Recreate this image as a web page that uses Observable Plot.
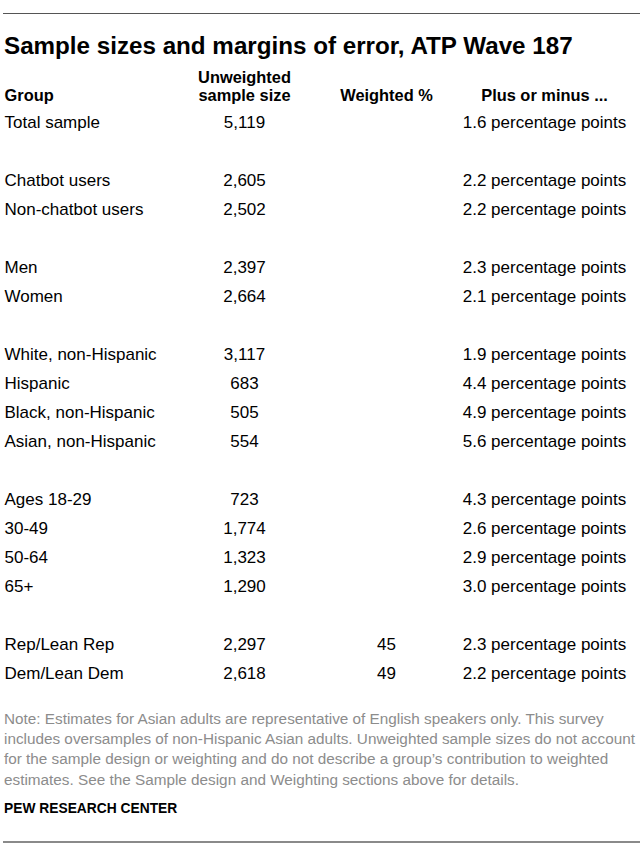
<!DOCTYPE html>
<html>
<head>
<meta charset="utf-8">
<script src="https://cdn.jsdelivr.net/npm/d3@7"></script>
<script src="https://cdn.jsdelivr.net/npm/@observablehq/plot@0.6"></script>
<style>
  body { margin: 0; background: #fff; }
  #wrap { position: relative; width: 640px; height: 856px; font-family: "Liberation Sans", Arial, sans-serif; }
  .rule { position: absolute; left: 3px; right: 0; height: 0; }
  #top-rule { top: 13px; border-top: 1.5px solid #555; }
  #bottom-rule { top: 841px; border-top: 2px solid #8a8a8a; }
  #title { position: absolute; left: 4px; top: 34px; font-size: 24.2px; line-height: 24px; font-weight: bold; color: #000; white-space: nowrap; }
  #chart { position: absolute; left: 0; top: 62px; }
  #note { position: absolute; left: 4px; top: 708.5px; width: 636px; font-size: 15.3px; line-height: 20.4px; color: #8c8c8c; }
  #source { position: absolute; left: 4px; top: 802px; font-size: 13.8px; line-height: 14px; font-weight: bold; color: #000; }
</style>
</head>
<body>
<div id="wrap">
  <div class="rule" id="top-rule"></div>
  <div id="title"></div>
  <div id="chart"></div>
  <div id="note"></div>
  <div id="source"></div>
  <div class="rule" id="bottom-rule"></div>
</div>
<script>
// ---- Data ----
const title = "Sample sizes and margins of error, ATP Wave 187";
const groups = [
  "Total sample",
  "Chatbot users", "Non-chatbot users",
  "Men", "Women",
  "White, non-Hispanic", "Hispanic", "Black, non-Hispanic", "Asian, non-Hispanic",
  "Ages 18-29", "30-49", "50-64", "65+",
  "Rep/Lean Rep", "Dem/Lean Dem"
];
const sections = [0, 1, 1, 2, 2, 3, 3, 3, 3, 4, 4, 4, 4, 5, 5];
const unweightedN = [5119, 2605, 2502, 2397, 2664, 3117, 683, 505, 554, 723, 1774, 1323, 1290, 2297, 2618];
const weightedPct = [null, null, null, null, null, null, null, null, null, null, null, null, null, 45, 49];
const marginOfError = [1.6, 2.2, 2.2, 2.3, 2.1, 1.9, 4.4, 4.9, 5.6, 4.3, 2.6, 2.9, 3.0, 2.3, 2.2];
const headers = ["Group", "Unweighted\nsample size", "Weighted %", "Plus or minus ..."];
const noteLines = [
  "Note: Estimates for Asian adults are representative of English speakers only. This survey",
  "includes oversamples of non-Hispanic Asian adults. Unweighted sample sizes do not account",
  "for the sample design or weighting and do not describe a group\u2019s contribution to weighted",
  "estimates. See the Sample design and Weighting sections above for details."
];
const source = "PEW RESEARCH CENTER";

// ---- Build table rows ----
const rows = groups.map((g, i) => ({
  group: g,
  n: unweightedN[i],
  w: weightedPct[i],
  moe: marginOfError[i],
  sec: sections[i]
}));
const yDomain = [];
rows.forEach((r, i) => {
  if (i > 0 && r.sec !== rows[i - 1].sec) yDomain.push("gap-" + i);
  yDomain.push(r.group);
});

const fontBody = 17;
const fontHead = 16.4;
const mTop = 58.56;
const headDy = 38.7 - mTop; // header baseline relative to frame top
// column anchors (layout)
const colGroupX = 4, colNX = 244, colWX = 386, colMoeX = 544;

const headStyle = { frameAnchor: "top-left", dy: headDy, lineAnchor: "bottom", fontSize: fontHead, fontWeight: "bold", fill: "#000" };

const chart = Plot.plot({
  width: 640,
  height: 628,
  marginTop: mTop,
  marginBottom: 15.44,
  marginLeft: 0,
  marginRight: 0,
  style: { fontFamily: "'Liberation Sans', Arial, sans-serif", color: "#000", background: "transparent", overflow: "visible" },
  y: { type: "point", domain: yDomain, padding: 0, axis: null },
  marks: [
    // headers
    Plot.text([headers[0]], { ...headStyle, text: d => d, dx: colGroupX, textAnchor: "start" }),
    Plot.text([headers[1]], { ...headStyle, text: d => d, dx: colNX, textAnchor: "middle", lineHeight: 1.1 }),
    Plot.text([headers[2]], { ...headStyle, text: d => d, dx: colWX, textAnchor: "middle" }),
    Plot.text([headers[3]], { ...headStyle, text: d => d, dx: colMoeX, textAnchor: "middle" }),
    // body
    Plot.text(rows, { y: "group", text: "group", frameAnchor: "left", dx: colGroupX, textAnchor: "start", fontSize: fontBody, fill: "#000" }),
    Plot.text(rows, { y: "group", text: d => d3.format(",")(d.n), frameAnchor: "left", dx: colNX, textAnchor: "middle", fontSize: fontBody, fill: "#000" }),
    Plot.text(rows.filter(d => d.w != null), { y: "group", text: d => String(d.w), frameAnchor: "left", dx: colWX, textAnchor: "middle", fontSize: fontBody, fill: "#000" }),
    Plot.text(rows, { y: "group", text: d => d.moe.toFixed(1) + " percentage points", frameAnchor: "left", dx: colMoeX, textAnchor: "middle", fontSize: fontBody, fill: "#000" })
  ]
});

document.getElementById("chart").appendChild(chart);
document.getElementById("title").textContent = title;
const noteEl = document.getElementById("note");
noteLines.forEach(l => { const d = document.createElement("div"); d.textContent = l; d.style.whiteSpace = "nowrap"; noteEl.appendChild(d); });
document.getElementById("source").textContent = source;
</script>
</body>
</html>
